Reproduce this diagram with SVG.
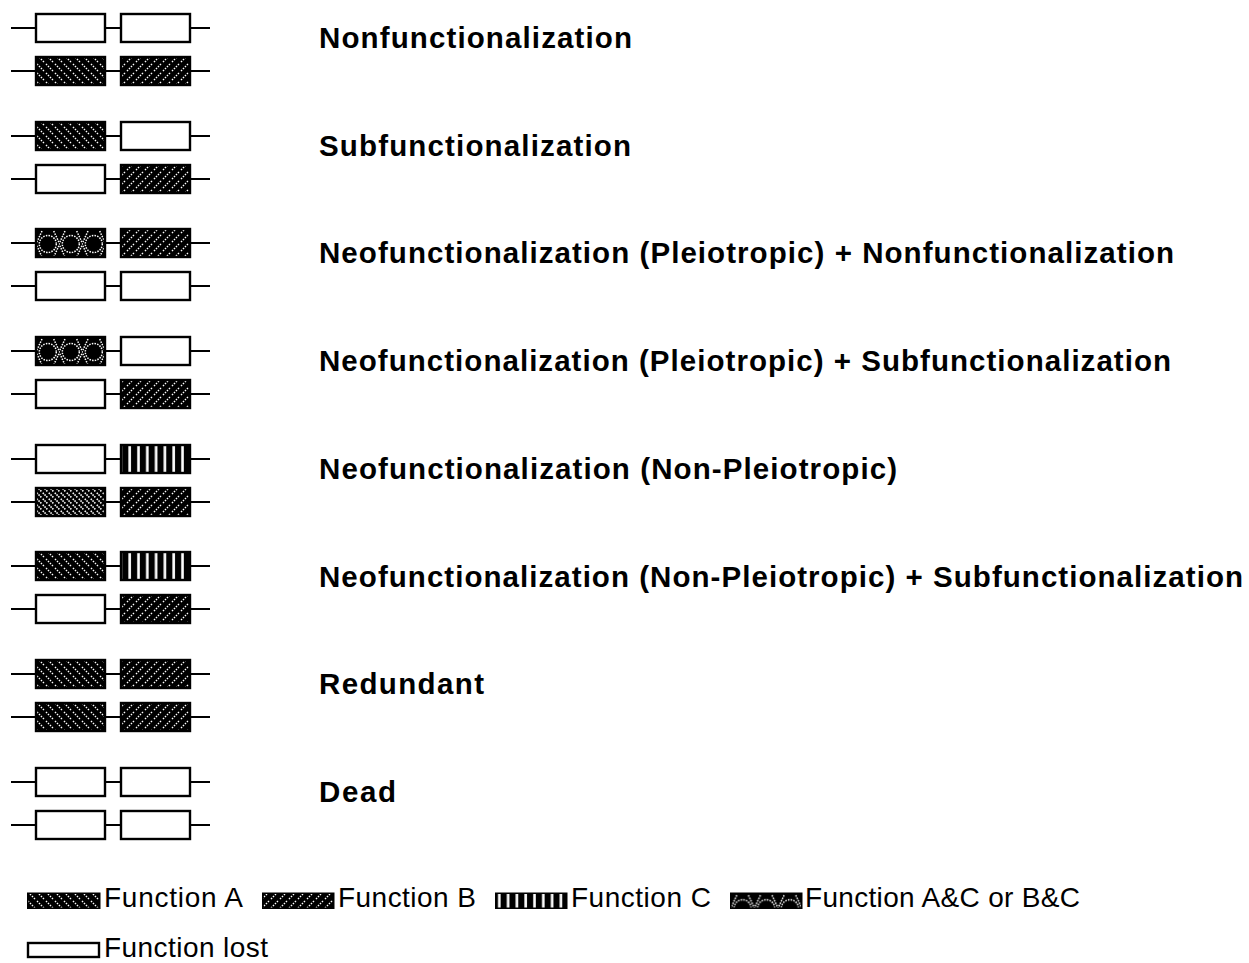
<svg xmlns="http://www.w3.org/2000/svg" width="1249" height="963" viewBox="0 0 1249 963">
<style>
.wire{stroke:#000;stroke-width:2;fill:none}
.box{stroke:#000;stroke-width:2.4}
.lost{fill:#fff}
.fa{fill:url(#pA)}
.fa2{fill:url(#pA2)}
.fb{fill:url(#pB)}
.fc{fill:url(#pC)}
.fx{fill:url(#pX)}
.lbl{font-family:"Liberation Sans",Arial,sans-serif;font-weight:bold;font-size:29.5px;fill:#000}
.leg{font-family:"Liberation Sans",Arial,sans-serif;font-size:28px;fill:#000}
.sw{stroke:#000;stroke-width:1.5}
</style>
<defs>
<pattern id="pA" width="9" height="9" patternUnits="userSpaceOnUse">
<rect width="9" height="9" fill="#000"/>
<path d="M-1,-1L10,10" stroke="#fff" stroke-width="1.4" stroke-dasharray="1.5 1.3"/>
</pattern>
<pattern id="pA2" width="6" height="6" patternUnits="userSpaceOnUse">
<rect width="6" height="6" fill="#000"/>
<path d="M-1,-1L7,7" stroke="#fff" stroke-width="1.6" stroke-dasharray="1.5 1"/>
</pattern>
<pattern id="pB" width="9" height="9" patternUnits="userSpaceOnUse">
<rect width="9" height="9" fill="#000"/>
<path d="M-1,10L10,-1" stroke="#fff" stroke-width="1.4" stroke-dasharray="1.5 1.3"/>
</pattern>
<pattern id="pC" width="8.8" height="10" patternUnits="userSpaceOnUse" x="2">
<rect width="8.8" height="10" fill="#000"/>
<rect x="3.2" width="2.6" height="10" fill="#fff"/>
</pattern>
<pattern id="pX" width="0.3333" height="1" patternUnits="objectBoundingBox">
<rect width="30" height="40" fill="#000"/>
<circle cx="11.8" cy="15" r="8.5" fill="none" stroke="#fff" stroke-width="1.5" stroke-dasharray="1.5 1.2"/>
<path d="M-6,2L6,28M6,2L-6,28M17.7,2L29.7,28M29.7,2L17.7,28" stroke="#fff" stroke-width="1.5" stroke-dasharray="1.5 1.2"/>
</pattern>
</defs>

<g id="g0-nonfunctionalization">
<path class="wire" d="M11,28H210M11,71H210"/>
<rect class="box lost" x="36" y="14" width="69" height="28"/>
<rect class="box lost" x="121" y="14" width="69" height="28"/>
<rect class="box fa" x="36" y="57" width="69" height="28"/>
<rect class="box fb" x="121" y="57" width="69" height="28"/>
</g>
<g id="g1-subfunctionalization">
<path class="wire" d="M11,136H210M11,179H210"/>
<rect class="box fa" x="36" y="122" width="69" height="28"/>
<rect class="box lost" x="121" y="122" width="69" height="28"/>
<rect class="box lost" x="36" y="165" width="69" height="28"/>
<rect class="box fb" x="121" y="165" width="69" height="28"/>
</g>
<g id="g2-neo-pleio-nonf">
<path class="wire" d="M11,243H210M11,286H210"/>
<rect class="box fx" x="36" y="229" width="69" height="28"/>
<rect class="box fb" x="121" y="229" width="69" height="28"/>
<rect class="box lost" x="36" y="272" width="69" height="28"/>
<rect class="box lost" x="121" y="272" width="69" height="28"/>
</g>
<g id="g3-neo-pleio-subf">
<path class="wire" d="M11,351H210M11,394H210"/>
<rect class="box fx" x="36" y="337" width="69" height="28"/>
<rect class="box lost" x="121" y="337" width="69" height="28"/>
<rect class="box lost" x="36" y="380" width="69" height="28"/>
<rect class="box fb" x="121" y="380" width="69" height="28"/>
</g>
<g id="g4-neo-nonpleio">
<path class="wire" d="M11,459H210M11,502H210"/>
<rect class="box lost" x="36" y="445" width="69" height="28"/>
<rect class="box fc" x="121" y="445" width="69" height="28"/>
<rect class="box fa2" x="36" y="488" width="69" height="28"/>
<rect class="box fb" x="121" y="488" width="69" height="28"/>
</g>
<g id="g5-neo-nonpleio-subf">
<path class="wire" d="M11,566H210M11,609H210"/>
<rect class="box fa" x="36" y="552" width="69" height="28"/>
<rect class="box fc" x="121" y="552" width="69" height="28"/>
<rect class="box lost" x="36" y="595" width="69" height="28"/>
<rect class="box fb" x="121" y="595" width="69" height="28"/>
</g>
<g id="g6-redundant">
<path class="wire" d="M11,674H210M11,717H210"/>
<rect class="box fa" x="36" y="660" width="69" height="28"/>
<rect class="box fb" x="121" y="660" width="69" height="28"/>
<rect class="box fa" x="36" y="703" width="69" height="28"/>
<rect class="box fb" x="121" y="703" width="69" height="28"/>
</g>
<g id="g7-dead">
<path class="wire" d="M11,782H210M11,825H210"/>
<rect class="box lost" x="36" y="768" width="69" height="28"/>
<rect class="box lost" x="121" y="768" width="69" height="28"/>
<rect class="box lost" x="36" y="811" width="69" height="28"/>
<rect class="box lost" x="121" y="811" width="69" height="28"/>
</g>

<g id="labels">
<text class="lbl" x="319" y="48" textLength="313" lengthAdjust="spacing">Nonfunctionalization</text>
<text class="lbl" x="319" y="156" textLength="312" lengthAdjust="spacing">Subfunctionalization</text>
<text class="lbl" x="319" y="263" textLength="855" lengthAdjust="spacing">Neofunctionalization (Pleiotropic) + Nonfunctionalization</text>
<text class="lbl" x="319" y="371" textLength="852" lengthAdjust="spacing">Neofunctionalization (Pleiotropic) + Subfunctionalization</text>
<text class="lbl" x="319" y="479" textLength="578" lengthAdjust="spacing">Neofunctionalization (Non-Pleiotropic)</text>
<text class="lbl" x="319" y="587" textLength="924" lengthAdjust="spacing">Neofunctionalization (Non-Pleiotropic) + Subfunctionalization</text>
<text class="lbl" x="319" y="694" textLength="165" lengthAdjust="spacing">Redundant</text>
<text class="lbl" x="319" y="802" textLength="77" lengthAdjust="spacing">Dead</text>
</g>

<g id="legend">
<rect class="sw fa" x="27.75" y="893.25" width="72" height="15"/>
<text class="leg" x="104" y="907" textLength="139" lengthAdjust="spacing">Function A</text>
<rect class="sw fb" x="262.75" y="893.25" width="71" height="15"/>
<text class="leg" x="338" y="907" textLength="138" lengthAdjust="spacing">Function B</text>
<rect class="sw fc" x="495.75" y="893.25" width="71" height="15"/>
<text class="leg" x="571" y="907" textLength="140" lengthAdjust="spacing">Function C</text>
<rect class="sw fx" x="730.75" y="893.25" width="71" height="15"/>
<text class="leg" x="805" y="907" textLength="275" lengthAdjust="spacing">Function A&amp;C or B&amp;C</text>
<rect class="box lost" x="28" y="943" width="71" height="14"/>
<text class="leg" x="104" y="957" textLength="164" lengthAdjust="spacing">Function lost</text>
</g>
</svg>
